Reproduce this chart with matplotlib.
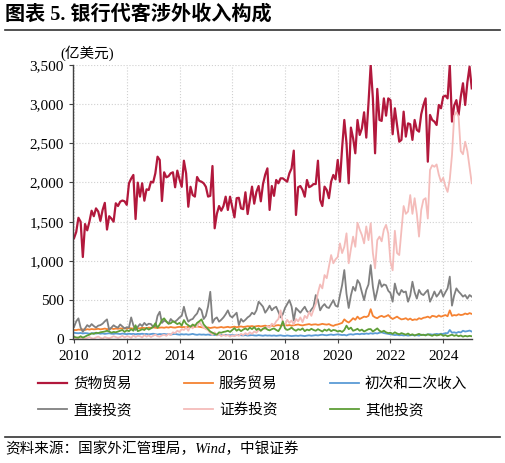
import numpy as np
import pandas as pd
import matplotlib
matplotlib.use('Agg')
import matplotlib.pyplot as plt
from matplotlib.lines import Line2D
from matplotlib.ticker import FuncFormatter, MultipleLocator

plt.rcParams['font.family'] = ['Liberation Serif', 'Noto Sans CJK SC']
plt.rcParams['axes.unicode_minus'] = False

# ------------ 数据: 月度, 2010-01 ~ 2025-02, 单位 亿美元 ------------
months = pd.date_range('2010-01-01', periods=182, freq='MS')

goods = [1290, 1370, 1550, 1500, 1050, 1470, 1390, 1500, 1640, 1570,
         1670, 1630, 1510, 1650, 1740, 1400, 1570, 1540, 1500, 1735,
         1700, 1755, 1770, 1760, 1715, 1990, 2050, 2096, 1534, 1998,
         1820, 1990, 1768, 1913, 1905, 2010, 2000, 2117, 2329, 2287,
         1764, 2130, 2066, 2080, 2117, 2130, 1939, 2151, 2040, 1945,
         2278, 2117, 1691, 1945, 1840, 1820, 2070, 2020, 2010, 1990,
         1945, 1820, 1830, 2210, 1416, 1600, 1700, 1640, 1700, 1819,
         1650, 1819, 1690, 1556, 1800, 1805, 1670, 1660, 1875, 1598,
         1777, 1947, 1730, 1880, 1955, 1760, 1980, 2100, 2180, 1650,
         1955, 1830, 2032, 1990, 2053, 2053, 2032, 2010, 2117, 2180,
         2406, 1586, 1940, 1955, 1905, 1819, 2032, 1940, 1955, 1980,
         1980, 2278, 1777, 1700, 1947, 1905, 1800, 2010, 2096, 2040,
         2287, 2010, 2440, 2797, 2500, 1990, 2700, 2564, 2372, 2797,
         2606, 2690, 2895, 2572, 3010, 3499, 3072, 2372, 3193, 2797,
         2785, 3072, 2852, 3072, 3050, 2615, 2946, 2733, 2520, 2543,
         2903, 2585, 2754, 2742, 2543, 2797, 2670, 2648, 2870, 2988,
         3072, 2265, 2861, 2797, 2776, 2733, 2988, 2946, 3094, 3107,
         3072, 3499, 2776, 2980, 3050, 2861, 3094, 3265, 2988, 3275,
         3477, 3200]

services = [120, 118, 125, 122, 128, 120, 130, 125, 132, 128,
            130, 135, 128, 132, 138, 130, 135, 140, 132, 138,
            135, 140, 138, 142, 136, 145, 140, 138, 145, 142,
            140, 148, 145, 142, 150, 146, 152, 148, 145, 150,
            152, 148, 155, 150, 158, 152, 150, 156, 160, 155,
            158, 152, 160, 155, 162, 158, 165, 160, 155, 150,
            148, 152, 145, 150, 155, 148, 152, 158, 150, 155,
            160, 152, 158, 162, 155, 160, 165, 158, 162, 168,
            165, 170, 162, 168, 172, 165, 170, 175, 168, 172,
            175, 170, 178, 182, 175, 180, 185, 178, 182, 175,
            180, 185, 190, 182, 178, 185, 190, 195, 185, 190,
            192, 185, 190, 198, 192, 188, 195, 180, 172, 185,
            190, 200, 210, 255, 230, 215, 240, 270, 250, 290,
            260, 275, 290, 285, 300, 385, 300, 280, 270, 290,
            300, 285, 295, 310, 280, 260, 275, 290, 270, 255,
            260, 270, 250, 265, 245, 255, 250, 270, 260, 275,
            280, 290, 275, 300, 295, 285, 305, 290, 300, 310,
            295, 370, 300, 310, 305, 320, 310, 315, 330, 320,
            335, 325]

income = [85, 80, 78, 82, 75, 80, 78, 72, 76, 80,
          74, 78, 72, 76, 70, 74, 78, 72, 70, 75,
          72, 68, 74, 70, 66, 72, 68, 70, 65, 70,
          68, 72, 66, 70, 64, 68, 72, 66, 62, 68,
          65, 70, 64, 68, 62, 66, 70, 64, 60, 66,
          62, 66, 60, 64, 70, 62, 58, 64, 60, 62,
          58, 62, 56, 60, 55, 58, 62, 56, 54, 58,
          55, 52, 56, 50, 54, 58, 52, 50, 54, 48,
          52, 55, 50, 48, 54, 50, 46, 52, 48, 50,
          46, 50, 45, 48, 52, 46, 44, 50, 46, 42,
          45, 48, 44, 50, 46, 42, 48, 52, 46, 50,
          54, 50, 56, 60, 55, 52, 58, 62, 56, 60,
          64, 60, 55, 58, 50, 62, 66, 60, 68, 70,
          65, 72, 68, 75, 70, 78, 72, 80, 75, 85,
          90, 80, 75, 70, 65, 60, 55, 58, 52, 55,
          50, 54, 48, 52, 56, 50, 54, 48, 60, 55,
          58, 62, 66, 60, 64, 70, 65, 72, 68, 80,
          78, 120, 85, 90, 82, 95, 88, 110, 100, 105,
          112, 100]

fdi = [160, 230, 268, 150, 97, 140, 182, 160, 195, 170,
       150, 175, 182, 200, 230, 255, 120, 150, 180, 160,
       150, 190, 165, 140, 155, 150, 280, 180, 120, 160,
       195, 170, 210, 180, 200, 195, 160, 170, 300, 352,
       210, 240, 226, 200, 260, 230, 226, 250, 280, 300,
       416, 300, 226, 250, 260, 300, 330, 400, 370, 260,
       300, 420, 607, 210, 260, 280, 226, 250, 280, 320,
       370, 300, 280, 310, 340, 182, 260, 226, 250, 280,
       300, 340, 320, 370, 480, 450, 416, 340, 380, 430,
       370, 400, 416, 350, 280, 320, 400, 450, 500, 420,
       240, 400, 370, 340, 380, 416, 360, 340, 380, 416,
       565, 500, 370, 420, 450, 410, 400, 450, 500, 430,
       416, 560, 692, 884, 580, 400, 560, 670, 620, 756,
       712, 600, 500, 630, 700, 947, 670, 500, 620, 756,
       670, 700, 690, 620, 590, 480, 712, 600, 565, 630,
       600, 610, 480, 560, 735, 600, 520, 630, 580, 565,
       600, 630, 480, 540, 610, 545, 580, 630, 545, 600,
       650, 800, 430, 560, 650, 610, 580, 545, 565, 520,
       565, 545]

securities = [20, 10, 30, 15, 25, 5, 20, 30, 15, 10,
              25, 35, 20, 10, 30, 20, 15, 25, 40, 30,
              20, 30, 45, 25, 40, 35, 20, 50, 30, 45,
              40, 25, 55, 35, 50, 30, 45, 60, 40, 35,
              50, 60, 45, 70, 55, 90, 80, 110, 95, 130,
              120, 150, 110, 170, 140, 190, 160, 225, 180, 150,
              130, 120, 80, 60, 90, 50, 70, 40, 60, 45,
              55, 35, 50, 40, 60, 45, 70, 55, 80, 60,
              90, 70, 100, 85, 120, 110, 140, 130, 170, 150,
              200, 180, 230, 260, 370, 220, 180, 250, 210, 240,
              190, 260, 230, 280, 220, 300, 270, 350, 300, 380,
              450, 594, 700, 650, 820, 780, 926, 1075, 970, 1020,
              1050, 1224, 1100, 1180, 1352, 970, 1150, 1310, 1180, 1487,
              1400, 1330, 1224, 1440, 1265, 1480, 1100, 905, 1265, 1310,
              1250, 1400, 1460, 1350, 990, 880, 1385, 1100, 1075, 1385,
              1700, 1600, 1630, 1840, 1600, 1800, 1600, 1310, 1650, 1780,
              1800, 1540, 2160, 2220, 2200, 2230, 2100, 2010, 2060, 1950,
              1880, 2040, 2350, 2850, 2900, 2840, 2400, 2360, 2520, 2400,
              2200, 1990]

other = [33, 25, 20, 40, 22, 35, 50, 60, 77, 70,
         85, 80, 90, 95, 100, 110, 100, 85, 95, 90,
         100, 110, 120, 95, 115, 105, 130, 110, 180, 105,
         115, 130, 120, 145, 125, 140, 160, 205, 150, 190,
         246, 268, 230, 200, 205, 230, 215, 195, 210, 175,
         246, 200, 180, 160, 190, 170, 210, 230, 255, 190,
         160, 130, 100, 85, 70, 60, 90, 85, 95, 100,
         110, 95, 120, 144, 110, 130, 105, 125, 140, 120,
         150, 130, 157, 120, 140, 110, 135, 150, 125, 115,
         130, 140, 120, 105, 150, 230, 140, 120, 130, 150,
         125, 110, 130, 120, 140, 105, 125, 115, 135, 120,
         110, 130, 115, 100, 125, 110, 130, 105, 120, 115,
         100, 110, 95, 120, 175, 130, 150, 110, 120, 135,
         110, 125, 100, 115, 130, 131, 100, 120, 140, 110,
         95, 110, 90, 80, 85, 70, 90, 75, 65, 80,
         70, 60, 75, 55, 65, 50, 60, 70, 55, 60,
         50, 65, 55, 45, 60, 50, 55, 65, 45, 55,
         40, 50, 60, 45, 55, 40, 50, 35, 45, 38,
         45, 40]

names = ['货物贸易', '服务贸易', '初次和二次收入', '直接投资', '证券投资', '其他投资']
series = [goods, services, income, fdi, securities, other]
colors = ['#B2183C', '#F58232', '#5B9BD5', '#808080', '#F4BCBA', '#5E9E37']
widths = [1.6, 1.3, 1.3, 1.3, 1.3, 1.3]

for s in series:
    assert len(s) == len(months)

# 月份换成小数年, 方便用数值轴
x = months.year + (months.month - 1) / 12.0

# ------------------------------ 作图 ------------------------------
fig = plt.figure(figsize=(5.05, 4.63), dpi=100)
ax = fig.add_axes([0.144, 0.267, 0.790, 0.593])

lines = []
for s, name, c, w in zip(series, names, colors, widths):
    ln, = ax.plot(x, s, color=c, lw=w, label=name)
    lines.append(ln)

ax.set_xlim(2009.95, 2025.08)
ax.set_ylim(0, 3500)
ax.xaxis.set_major_locator(MultipleLocator(2))
ax.yaxis.set_major_locator(MultipleLocator(500))
ax.xaxis.set_major_formatter(FuncFormatter(lambda v, p: '%d' % v))
ax.yaxis.set_major_formatter(FuncFormatter(lambda v, p: '{:,.0f}'.format(v)))
ax.tick_params(axis='both', labelsize=11, length=3, width=0.8,
               color='#404040', labelcolor='black')
ax.tick_params(axis='x', pad=5)

ax.grid(True, linestyle=':', color='#D0D0D0', lw=0.8)
ax.set_axisbelow(True)
for sp in ['top', 'right']:
    ax.spines[sp].set_visible(False)
for sp in ['left', 'bottom']:
    ax.spines[sp].set_color('#404040')
    ax.spines[sp].set_linewidth(1.0)

# 单位
fig.text(60 / 505, 1 - 53 / 463, '(亿美元)', fontsize=10.5, va='center')

# 图例 2行3列 (legend 按列填充, 所以重新排一下顺序)
order = [0, 3, 1, 4, 2, 5]
fig.legend([lines[i] for i in order], [names[i] for i in order],
           loc='upper left', bbox_to_anchor=(38 / 505, 1 - 377 / 463),
           ncol=3, frameon=False, fontsize=10.5, handlelength=2.0,
           handletextpad=0.4, columnspacing=3.6, labelspacing=0.85,
           borderpad=0, borderaxespad=0)

# 标题和来源
fig.text(5 / 505, 1 - 15 / 463, '图表 5. 银行代客涉外收入构成',
         fontsize=14.5, fontweight='bold', va='center')
fig.add_artist(Line2D([5 / 505, 500 / 505], [1 - 30 / 463, 1 - 30 / 463],
                      color='#333333', lw=1.2))
fig.add_artist(Line2D([5 / 505, 500 / 505], [1 - 437 / 463, 1 - 437 / 463],
                      color='#333333', lw=1.2))
fig.text(5 / 505, 1 - 449 / 463, '资料来源：国家外汇管理局，Wind，中银证券',
         fontsize=10.5, style='italic', va='center')

fig.savefig('out.png', dpi=100)
